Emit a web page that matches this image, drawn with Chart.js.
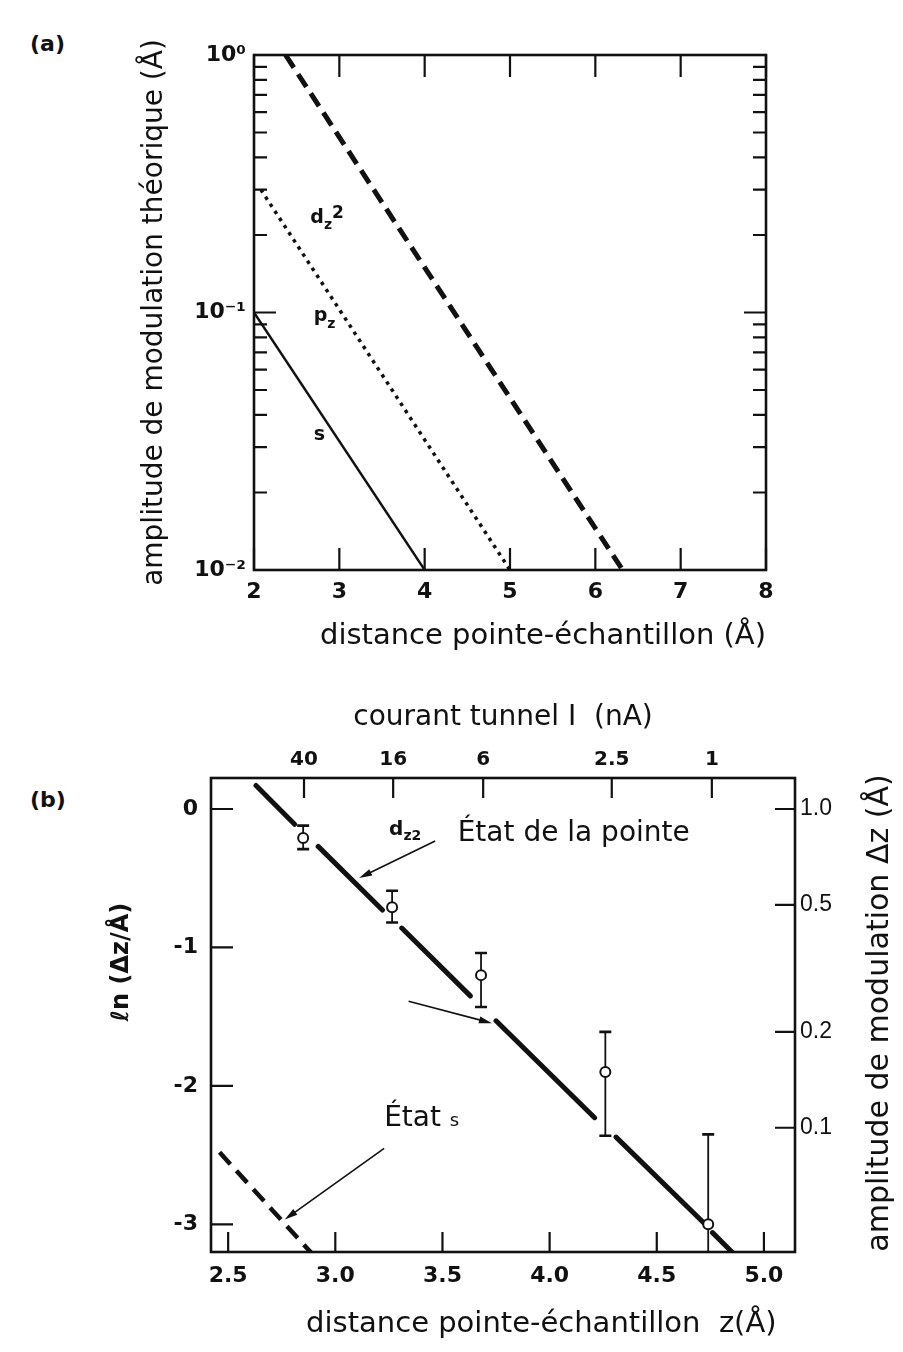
<!DOCTYPE html>
<html>
<head>
<meta charset="utf-8">
<script src="https://cdn.jsdelivr.net/npm/chart.js@4.4.1/dist/chart.umd.min.js"></script>
<style>
  html, body { margin: 0; padding: 0; background: #fff; }
  body { width: 903px; height: 1352px; position: relative; overflow: hidden; }
  canvas { position: absolute; left: 0; }
  #chartA { top: 0; }
  #chartB { top: 680px; }
  .panel { position: absolute; left: 30px; font: bold 22px "DejaVu Sans", sans-serif; color: #111; }
</style>
</head>
<body>
<div class="panel" style="top:31px">(a)</div>
<div class="panel" style="top:787px">(b)</div>
<canvas id="chartA" width="903" height="680"></canvas>
<canvas id="chartB" width="903" height="672"></canvas>
<script>
// ---------- panel (a): theoretical modulation amplitude (log) vs tip-sample distance
const distTicksA = [2, 3, 4, 5, 6, 7, 8];
const ampMajorA = [0.01, 0.1, 1];
const ampMajorLabelsA = ["10⁻²", "10⁻¹", "10⁰"];
const dz2LineA = [[2.37, 1.0], [6.32, 0.01]];
const pzLineA = [[2.08, 0.30], [5.0, 0.01]];
const sLineA = [[2.0, 0.1], [4.0, 0.01]];
const dz2LabelA = [2.66, 0.233];
const pzLabelA = [2.7, 0.097];
const sLabelA = [2.7, 0.0334];

// ---------- panel (b): ln(dz) vs z, with tunnel current on top
const zMeasured = [2.85, 3.265, 3.68, 4.26, 4.74];
const lnMeasured = [-0.21, -0.71, -1.2, -1.9, -3.0];
const lnErrHigh = [-0.12, -0.59, -1.04, -1.61, -2.35];
const lnErrLow = [-0.29, -0.82, -1.43, -2.36, -3.5];
const dz2SegmentsB = [
  [[2.63, 0.17], [2.81, -0.11]],
  [[2.92, -0.27], [3.22, -0.73]],
  [[3.31, -0.86], [3.63, -1.35]],
  [[3.75, -1.53], [4.21, -2.23]],
  [[4.31, -2.37], [4.72, -2.99]],
  [[4.76, -3.06], [4.87, -3.23]]
];
const sLineB = [[2.46, -2.48], [2.89, -3.21]];
const currentLabels = ["40", "16", "6", "2.5", "1"];
const currentAtZ = [2.854, 3.27, 3.69, 4.29, 4.757];
const ampLabelsB = ["1.0", "0.5", "0.2", "0.1"];
const ampValuesB = [1.0, 0.5, 0.2, 0.1];
const arrowsB = [
  [[3.466, -0.231], [3.111, -0.499]],
  [[3.342, -1.388], [3.731, -1.547]],
  [[3.228, -2.451], [2.764, -2.965]]
];
const dz2LabelB = [3.251, -0.152];
const tipLabelB = [3.571, -0.18];
const sLabelB = [3.228, -2.24];

const ink = "#111";
const family = "DejaVu Sans";

// minor + major log ticks for panel (a)
const ampTicksA = [];
for (const decade of [0.01, 0.1]) {
  for (let m = 1; m < 10; m++) ampTicksA.push(+(m * decade).toPrecision(2));
}
ampTicksA.push(1);

function pts(pairs) {
  return pairs.map(([x, y]) => ({ x, y }));
}

function isMajorLog(v) {
  const l = Math.log10(v);
  return Math.abs(l - Math.round(l)) < 1e-6;
}

// closed frame with inward tick marks taken from the scales
function frame(marks) {
  return {
    id: "frame",
    afterDatasetsDraw(chart) {
      const { ctx, chartArea: a } = chart;
      ctx.save();
      ctx.strokeStyle = ink;
      ctx.lineWidth = 2.6;
      ctx.strokeRect(a.left, a.top, a.right - a.left, a.bottom - a.top);
      ctx.lineWidth = 2.2;
      ctx.beginPath();
      for (const m of marks) {
        const sc = chart.scales[m.scale];
        for (const t of sc.ticks) {
          const p = sc.getPixelForValue(t.value);
          const len = m.len(t.value);
          for (const side of m.sides) {
            if (side === "bottom") { ctx.moveTo(p, a.bottom); ctx.lineTo(p, a.bottom - len); }
            if (side === "top") { ctx.moveTo(p, a.top); ctx.lineTo(p, a.top + len); }
            if (side === "left") { ctx.moveTo(a.left, p); ctx.lineTo(a.left + len, p); }
            if (side === "right") { ctx.moveTo(a.right, p); ctx.lineTo(a.right - len, p); }
          }
        }
      }
      ctx.stroke();
      ctx.restore();
    }
  };
}

function rich(ctx, x, y, parts) {
  ctx.textAlign = "left";
  ctx.textBaseline = "middle";
  for (const [text, size, dy, weight] of parts) {
    ctx.font = `${weight || "normal"} ${size}px "${family}"`;
    ctx.fillText(text, x, y + dy);
    x += ctx.measureText(text).width;
  }
}

function arrow(ctx, x0, y0, x1, y1) {
  const c = Math.cos(Math.atan2(y1 - y0, x1 - x0));
  const s = Math.sin(Math.atan2(y1 - y0, x1 - x0));
  ctx.lineWidth = 1.6;
  ctx.beginPath();
  ctx.moveTo(x0, y0);
  ctx.lineTo(x1 - 8 * c, y1 - 8 * s);
  ctx.stroke();
  ctx.beginPath();
  ctx.moveTo(x1, y1);
  ctx.lineTo(x1 - 13 * c + 3.5 * s, y1 - 13 * s - 3.5 * c);
  ctx.lineTo(x1 - 13 * c - 3.5 * s, y1 - 13 * s + 3.5 * c);
  ctx.closePath();
  ctx.fill();
}

const tickFont = { family: family, size: 22, weight: "bold" };

// ================= chart (a)
new Chart(document.getElementById("chartA"), {
  type: "scatter",
  data: {
    datasets: [
      {
        data: pts(dz2LineA), showLine: true, borderColor: ink, borderWidth: 5,
        borderDash: [15, 8], pointRadius: 0
      },
      {
        data: pts(pzLineA), showLine: true, borderColor: ink, borderWidth: 3.5,
        borderDash: [3.5, 5], pointRadius: 0
      },
      {
        data: pts(sLineA), showLine: true, borderColor: ink, borderWidth: 2.4,
        pointRadius: 0
      }
    ]
  },
  options: {
    responsive: false,
    animation: false,
    layout: { padding: { left: 138, top: 55, right: 137, bottom: 10 } },
    plugins: { legend: { display: false }, tooltip: { enabled: false } },
    scales: {
      x: {
        type: "linear", min: 2, max: 8,
        afterBuildTicks: (s) => { s.ticks = distTicksA.map((v) => ({ value: v })); },
        afterFit: (s) => { s.height = 100; },
        grid: { display: false, drawTicks: false },
        border: { display: false },
        ticks: { autoSkip: false, maxRotation: 0, padding: 9, color: ink, font: tickFont },
        title: {
          display: true, text: "distance pointe-échantillon (Å)", align: "end", color: ink,
          font: { family: family, size: 29 }, padding: { top: 0, bottom: 16 }
        }
      },
      y: {
        type: "logarithmic", min: 0.01, max: 1,
        afterBuildTicks: (s) => { s.ticks = ampTicksA.map((v) => ({ value: v })); },
        afterFit: (s) => { s.width = 116; },
        grid: { display: false, drawTicks: false },
        border: { display: false },
        ticks: {
          autoSkip: false, padding: 8, color: ink, font: tickFont,
          callback: (v) => {
            const i = ampMajorA.findIndex((t) => Math.abs(t - v) < 1e-9);
            return i >= 0 ? ampMajorLabelsA[i] : "";
          }
        },
        title: {
          display: true, text: "amplitude de modulation théorique (Å)", color: ink,
          font: { family: family, size: 28 }, padding: { top: 0, bottom: 0 }
        }
      }
    }
  },
  plugins: [
    frame([
      { scale: "x", sides: ["bottom", "top"], len: () => 22 },
      { scale: "y", sides: ["left", "right"], len: (v) => (isMajorLog(v) ? 22 : 13) }
    ]),
    {
      id: "labelsA",
      afterDatasetsDraw(chart) {
        const { ctx, scales: { x, y } } = chart;
        ctx.save();
        ctx.fillStyle = ink;
        rich(ctx, x.getPixelForValue(dz2LabelA[0]), y.getPixelForValue(dz2LabelA[1]),
          [["d", 19, 0, "bold"], ["z", 14, 7, "bold"], ["2", 17, -4, "bold"]]);
        rich(ctx, x.getPixelForValue(pzLabelA[0]), y.getPixelForValue(pzLabelA[1]),
          [["p", 19, 0, "bold"], ["z", 14, 8, "bold"]]);
        rich(ctx, x.getPixelForValue(sLabelA[0]), y.getPixelForValue(sLabelA[1]),
          [["s", 19, 0, "bold"]]);
        ctx.restore();
      }
    }
  ]
});

// ================= chart (b)
const dz2DataB = dz2SegmentsB.flatMap((seg, i) =>
  i ? [{ x: seg[0][0], y: null }, ...pts(seg)] : pts(seg));

new Chart(document.getElementById("chartB"), {
  type: "scatter",
  data: {
    datasets: [
      {
        data: zMeasured.map((z, i) => ({ x: z, y: lnMeasured[i] })),
        pointRadius: 5, pointBackgroundColor: "#fff", pointBorderColor: ink, pointBorderWidth: 2
      },
      {
        data: dz2DataB, showLine: true, spanGaps: false, borderColor: ink, borderWidth: 5,
        borderCapStyle: "round", pointRadius: 0
      },
      {
        data: pts(sLineB), showLine: true, borderColor: ink, borderWidth: 4.5,
        borderDash: [16, 9], pointRadius: 0
      }
    ]
  },
  options: {
    responsive: false,
    animation: false,
    layout: { padding: { left: 90, top: 10, right: 0, bottom: 0 } },
    plugins: { legend: { display: false }, tooltip: { enabled: false } },
    scales: {
      x: {
        type: "linear", min: 2.42, max: 5.145,
        afterBuildTicks: (s) => { s.ticks = [2.5, 3.0, 3.5, 4.0, 4.5, 5.0].map((v) => ({ value: v })); },
        afterFit: (s) => { s.height = 100; },
        grid: { display: false, drawTicks: false },
        border: { display: false },
        ticks: { autoSkip: false, maxRotation: 0, padding: 11, color: ink, font: tickFont,
          callback: (v) => v.toFixed(1) },
        title: {
          display: true, text: "distance pointe-échantillon  z(Å)\u00a0\u00a0", align: "end", color: ink,
          font: { family: family, size: 29 }, padding: { top: 0, bottom: 10 }
        }
      },
      x2: {
        type: "linear", position: "top", min: 2.42, max: 5.145,
        afterBuildTicks: (s) => { s.ticks = currentAtZ.map((v) => ({ value: v })); },
        afterFit: (s) => { s.height = 88; },
        grid: { display: false, drawTicks: false },
        border: { display: false },
        ticks: { autoSkip: false, maxRotation: 0, padding: 6, color: ink,
          font: { family: family, size: 20, weight: "bold" },
          callback: (v, i) => currentLabels[i] },
        title: {
          display: true, text: "courant tunnel I  (nA)", color: ink,
          font: { family: family, size: 28 }, padding: { top: 11, bottom: 0 }
        }
      },
      y: {
        type: "linear", min: -3.2, max: 0.224,
        afterBuildTicks: (s) => { s.ticks = [-3, -2, -1, 0].map((v) => ({ value: v })); },
        afterFit: (s) => { s.width = 121; },
        grid: { display: false, drawTicks: false },
        border: { display: false },
        ticks: { autoSkip: false, padding: 13, color: ink, font: tickFont,
          callback: (v) => String(v) },
        title: { display: false }
      },
      y2: {
        type: "linear", position: "right", min: -3.2, max: 0.224,
        afterBuildTicks: (s) => { s.ticks = ampValuesB.map((v) => ({ value: Math.log(v) })); },
        afterFit: (s) => { s.width = 108; },
        grid: { display: false, drawTicks: false },
        border: { display: false },
        ticks: { autoSkip: false, padding: 5, color: ink,
          font: { family: "Liberation Sans", size: 23 },
          callback: (v, i) => ampLabelsB[i] },
        title: { display: false }
      }
    }
  },
  plugins: [
    {
      id: "errorBars",
      beforeDatasetsDraw(chart) {
        const { ctx, chartArea: a, scales: { x, y } } = chart;
        ctx.save();
        ctx.beginPath();
        ctx.rect(a.left, a.top, a.right - a.left, a.bottom - a.top);
        ctx.clip();
        ctx.strokeStyle = ink;
        zMeasured.forEach((z, i) => {
          const px = x.getPixelForValue(z);
          const hi = y.getPixelForValue(lnErrHigh[i]);
          const lo = y.getPixelForValue(lnErrLow[i]);
          ctx.lineWidth = 1.8;
          ctx.beginPath();
          ctx.moveTo(px, hi);
          ctx.lineTo(px, lo);
          ctx.stroke();
          ctx.lineWidth = 2.6;
          ctx.beginPath();
          ctx.moveTo(px - 6, hi); ctx.lineTo(px + 6, hi);
          ctx.moveTo(px - 6, lo); ctx.lineTo(px + 6, lo);
          ctx.stroke();
        });
        ctx.restore();
      }
    },
    frame([
      { scale: "x", sides: ["bottom"], len: () => 20 },
      { scale: "x2", sides: ["top"], len: () => 20 },
      { scale: "y", sides: ["left"], len: () => 22 },
      { scale: "y2", sides: ["right"], len: () => 20 }
    ]),
    {
      id: "labelsB",
      afterDatasetsDraw(chart) {
        const { ctx, chartArea: a, scales: { x, y } } = chart;
        ctx.save();
        ctx.fillStyle = ink;
        ctx.strokeStyle = ink;
        for (const [[x0, y0], [x1, y1]] of arrowsB) {
          arrow(ctx, x.getPixelForValue(x0), y.getPixelForValue(y0),
            x.getPixelForValue(x1), y.getPixelForValue(y1));
        }
        rich(ctx, x.getPixelForValue(dz2LabelB[0]), y.getPixelForValue(dz2LabelB[1]),
          [["d", 20, 0, "bold"], ["z2", 14, 6, "bold"]]);
        rich(ctx, x.getPixelForValue(tipLabelB[0]), y.getPixelForValue(tipLabelB[1]),
          [["État de la pointe", 28, 0]]);
        rich(ctx, x.getPixelForValue(sLabelB[0]), y.getPixelForValue(sLabelB[1]),
          [["État ", 28, 0], ["s", 18, 2]]);

        // side titles, rotated to read bottom-to-top
        ctx.textAlign = "center";
        ctx.textBaseline = "middle";
        ctx.save();
        ctx.translate(a.left - 89, a.top + 184);
        ctx.rotate(-Math.PI / 2);
        ctx.font = `bold 24px "${family}"`;
        ctx.fillText("ℓn (Δz/Å)", 0, 0);
        ctx.restore();
        ctx.save();
        ctx.translate(a.right + 85, a.top + 235);
        ctx.rotate(-Math.PI / 2);
        ctx.font = `30px "${family}"`;
        ctx.fillText("amplitude de modulation Δz (Å)", 0, 0);
        ctx.restore();
        ctx.restore();
      }
    }
  ]
});
</script>
</body>
</html>
